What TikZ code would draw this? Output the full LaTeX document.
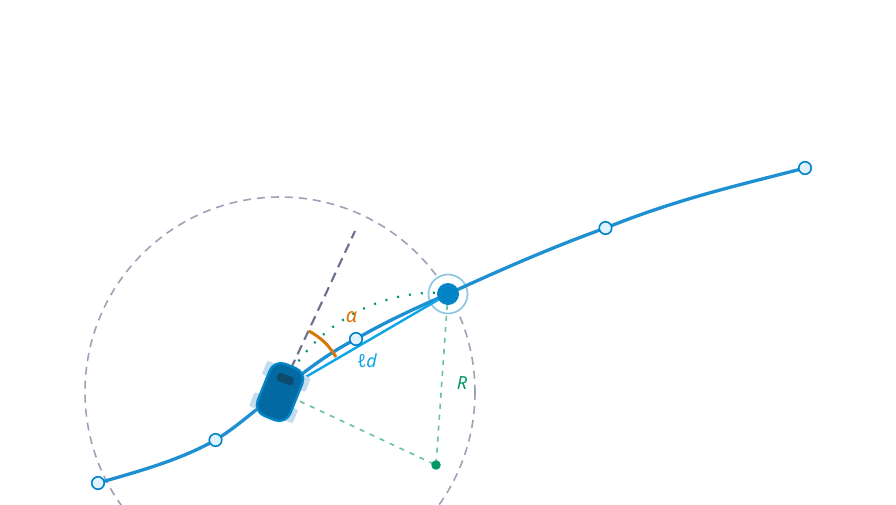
\documentclass[tikz,border=0pt]{standalone}
\usepackage{fontspec}
\setmainfont{Noto Sans}
\usetikzlibrary{calc}
\definecolor{pathblue}{HTML}{1E90D2}
\definecolor{chord}{HTML}{0EA5E9}
\definecolor{wpfill}{HTML}{E0F2FE}
\definecolor{wpline}{HTML}{0284C7}
\definecolor{ringc}{HTML}{8CC8E4}
\definecolor{carbody}{HTML}{0369A1}
\definecolor{wheelc}{HTML}{C4DCEC}
\definecolor{windowc}{HTML}{0C4A6E}
\definecolor{greenc}{HTML}{059669}
\definecolor{orangec}{HTML}{D97706}
\definecolor{slatec}{HTML}{6B7090}
\tikzset{
  wp/.style={circle,draw=wpline,fill=wpfill,line width=1.6pt,inner sep=0pt,minimum size=12.5pt},
  wheelbox/.style={fill=wheelc,draw=none,inner sep=0pt,minimum width=15pt,minimum height=9pt,rounded corners=1.5pt},
  lab/.style={font=\itshape\fontsize{18}{18}\selectfont,inner sep=0pt},
}
\begin{document}
\begin{tikzpicture}[x=1pt,y=-1pt,line cap=butt]
\useasboundingbox (0,0) rectangle (896,504);
\fill[white] (0,0) rectangle (896,504);
\coordinate (center) at (280,392);
\coordinate (aim) at (355,231);
\coordinate (turn) at (436,465);
\coordinate (w1) at (98,483);
\coordinate (w2) at (215.5,440);
\coordinate (w3) at (356,339);
\coordinate (goal) at (448,294);
\coordinate (w5) at (605.5,228);
\coordinate (w6) at (805,168);
\coordinate (alphaA) at (309,331);
\coordinate (alphaB) at (336,357);
\begin{scope}
\clip (0,0) rectangle (896,504);
\draw[slatec!65,line width=1.6pt,dash pattern=on 8pt off 6pt] (center) circle[radius=195];
\end{scope}
\node[circle,draw=ringc,fill=white,line width=1.7pt,inner sep=0pt,minimum size=39pt] (ring) at (goal) {};
\draw[pathblue,line width=3.3pt] (w1) .. controls (140,471) and (180,460) .. (w2)
  .. controls (240,425) and (260,405) .. (center)
  .. controls (300,375) and (325,355) .. (w3)
  .. controls (385,322) and (420,306) .. (goal)
  .. controls (500,270) and (555,246) .. (w5)
  .. controls (680,198) and (740,185) .. (w6);
\draw[chord,line width=2.4pt] (center) -- (goal);
\draw[slatec,line width=2.1pt,dash pattern=on 10pt off 6pt,dash phase=2pt] (aim) -- (center);
\draw[greenc!60,line width=1.6pt,dash pattern=on 5pt off 6pt] (center) -- (turn);
\draw[greenc!60,line width=1.6pt,dash pattern=on 5pt off 6pt] (goal) -- (turn);
\draw[greenc,line width=2.2pt,dash pattern=on 2pt off 10pt] (center) arc[start angle=-155,end angle=-86.0,radius=172];
\node[circle,fill=wpline,inner sep=0pt,minimum size=22pt] (goaldot) at (goal) {};
\node[wp] (n1) at (w1) {};
\node[wp] (n2) at (w2) {};
\node[wp] (n3) at (w3) {};
\node[wp] (n5) at (w5) {};
\node[wp] (n6) at (w6) {};
\node[circle,fill=greenc,inner sep=0pt,minimum size=9.5pt] (turndot) at (turn) {};
\draw[orangec,line width=3pt] (alphaA) to[bend left=14] (alphaB);
\node[lab,text=orangec,font=\itshape\fontsize{20}{20}\selectfont] (alpha) at (351.5,317) {α};
\node[lab,text=chord] (ld) at (367,361) {ℓd};
\node[lab,text=greenc] (rlab) at (462,383) {R};
\begin{scope}[shift={(center)},x=1pt,y=1pt,rotate=68]
\node[wheelbox,transform shape] (wa) at (17,19) {};
\node[wheelbox,transform shape] (wb) at (17,-19) {};
\node[wheelbox,transform shape] (wc) at (-17,19) {};
\node[wheelbox,transform shape] (wd) at (-17,-19) {};
\node[draw=wpline,fill=carbody,line width=2.4pt,rounded corners=12pt,minimum width=56pt,minimum height=35pt,inner sep=0pt,transform shape] (car) at (0,0) {};
\node[fill=windowc,rounded corners=3pt,minimum width=8.5pt,minimum height=17pt,inner sep=0pt,transform shape] (window) at (14,0) {};
\end{scope}
\end{tikzpicture}
\end{document}
